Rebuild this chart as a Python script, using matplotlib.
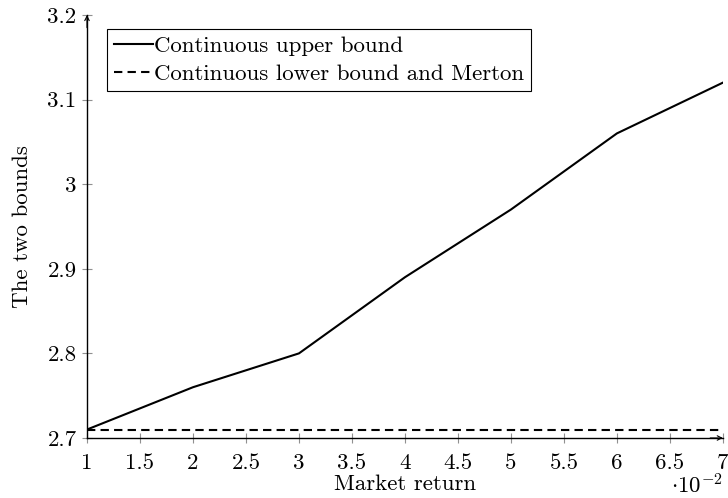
import matplotlib.pyplot as plt

plt.rcParams['font.family'] = 'cmr10'
plt.rcParams['mathtext.fontset'] = 'cm'
plt.rcParams['axes.formatter.use_mathtext'] = True

# market return (x 10^-2) and the two bounds
market = [1, 2, 3, 4, 5, 6, 7]
upper = [2.71, 2.76, 2.80, 2.89, 2.97, 3.06, 3.12]
lower = [2.71, 2.71, 2.71, 2.71, 2.71, 2.71, 2.71]

fs = 16.5

fig = plt.figure(figsize=(7.28, 4.98), dpi=100)
ax = fig.add_axes([0.1195, 0.1205, 0.8735, 0.8495])

ax.plot(market, upper, color='black', lw=1.5, label='Continuous upper bound')
ax.plot(market, lower, color='black', lw=1.5, ls=(0, (4, 2.5)),
        label='Continuous lower bound and Merton')

ax.set_xlim(1, 7)
ax.set_ylim(2.7, 3.2)
ax.set_xticks([1 + 0.5 * i for i in range(13)])
ax.set_xticklabels(['1', '1.5', '2', '2.5', '3', '3.5', '4', '4.5', '5', '5.5', '6', '6.5', '7'])
ax.set_yticks([2.7, 2.8, 2.9, 3.0, 3.1, 3.2])
ax.set_yticklabels(['2.7', '2.8', '2.9', '3', '3.1', '3.2'])

for s in ['top', 'right']:
    ax.spines[s].set_visible(False)
for s in ['left', 'bottom']:
    ax.spines[s].set_linewidth(1.0)
ax.tick_params(direction='inout', length=7, width=0.8, color='#909090',
               labelsize=fs)
ax.tick_params(axis='x', pad=8)
ax.tick_params(axis='y', pad=4)

# arrow heads on the axis lines
ax.annotate('', xy=(1.0, 0), xytext=(0.98, 0), xycoords='axes fraction',
            arrowprops=dict(arrowstyle='->', lw=0.8, color='black',
                            mutation_scale=8, shrinkA=0, shrinkB=0))
ax.annotate('', xy=(0, 1.0), xytext=(0, 0.97), xycoords='axes fraction',
            arrowprops=dict(arrowstyle='->', lw=0.8, color='black',
                            mutation_scale=8, shrinkA=0, shrinkB=0))

ax.set_xlabel('Market return', fontsize=fs, labelpad=1)
ax.set_ylabel('The two bounds', fontsize=fs, labelpad=11)
ax.text(1.0, -0.112, r'$\cdot 10^{-2}$', transform=ax.transAxes, fontsize=fs,
        ha='right', va='center')

leg = ax.legend(loc='upper left', bbox_to_anchor=(0.0315, 0.967), fontsize=fs,
                frameon=True, fancybox=False, edgecolor='black', framealpha=1,
                handlelength=1.7, handletextpad=0.05, borderpad=0.3,
                labelspacing=0.35, borderaxespad=0)
leg.get_frame().set_linewidth(0.8)

fig.savefig('out.png', dpi=100)
